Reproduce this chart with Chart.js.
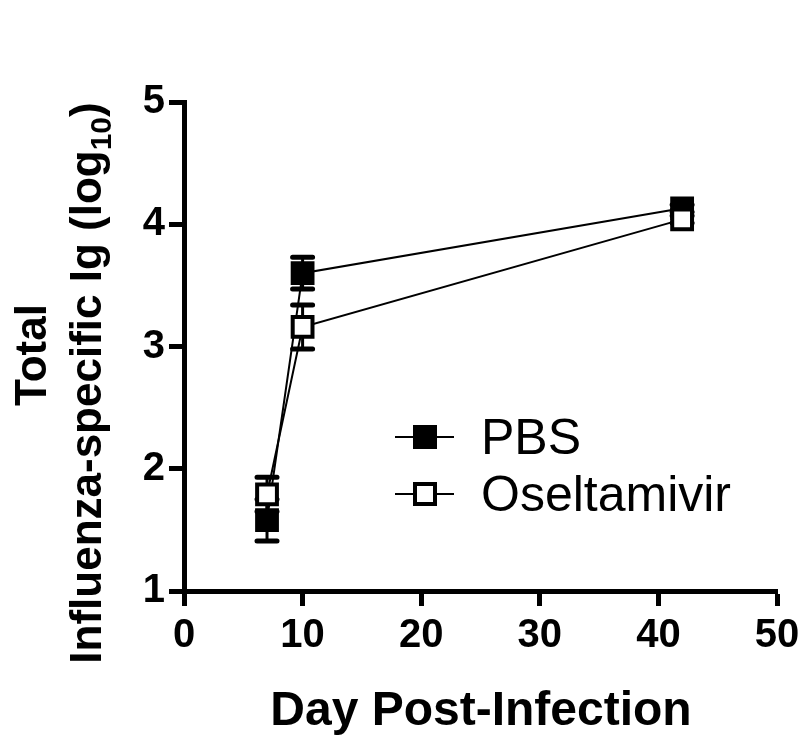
<!DOCTYPE html>
<html>
<head>
<meta charset="utf-8">
<script src="https://cdn.jsdelivr.net/npm/chart.js@4"></script>
<style>
  html, body { margin: 0; padding: 0; background: #fff; }
  #wrap { width: 800px; height: 741px; }
</style>
</head>
<body>
<div id="wrap"><canvas id="graph" width="800" height="741"></canvas></div>
<script>
const days = [7, 10, 42];
const pbsMean = [1.58, 3.6, 4.13];
const pbsErr = [0.17, 0.13, 0.03];
const oselMean = [1.79, 3.16, 4.04];
const oselErr = [0.14, 0.18, 0.03];
const xTicks = [0, 10, 20, 30, 40, 50];
const yTicks = [1, 2, 3, 4, 5];

const FONT = '"Liberation Sans", Arial, sans-serif';

// error bars drawn under the markers
const errorBars = {
  id: 'errorBars',
  beforeDatasetsDraw(chart) {
    const ctx = chart.ctx;
    const xs = chart.scales.x, ys = chart.scales.y;
    chart.data.datasets.forEach(ds => {
      ds.data.forEach((p, i) => {
        const e = ds.errors[i];
        if (!e) return;
        const px = xs.getPixelForValue(p.x);
        const top = ys.getPixelForValue(p.y + e);
        const bot = ys.getPixelForValue(p.y - e);
        ctx.save();
        ctx.strokeStyle = '#000';
        ctx.lineCap = 'round';
        ctx.lineWidth = 3;
        ctx.beginPath();
        ctx.moveTo(px, top); ctx.lineTo(px, bot);
        ctx.stroke();
        ctx.lineWidth = 5;
        ctx.beginPath();
        ctx.moveTo(px - 10, top); ctx.lineTo(px + 10, top);
        ctx.moveTo(px - 10, bot); ctx.lineTo(px + 10, bot);
        ctx.stroke();
        ctx.restore();
      });
    });
  }
};

// titles and legend
const decor = {
  id: 'decor',
  afterDraw(chart) {
    const ctx = chart.ctx;
    ctx.save();
    ctx.fillStyle = '#000';
    ctx.textBaseline = 'alphabetic';

    // x title
    ctx.font = 'bold 48px ' + FONT;
    ctx.textAlign = 'center';
    ctx.fillText('Day Post-Infection', 481, 725);

    // y title, two lines
    ctx.save();
    ctx.translate(46, 355);
    ctx.rotate(-Math.PI / 2);
    ctx.font = 'bold 44px ' + FONT;
    ctx.textAlign = 'center';
    ctx.fillText('Total', 0, 0);
    ctx.restore();

    ctx.save();
    ctx.translate(101, 383);
    ctx.rotate(-Math.PI / 2);
    ctx.textAlign = 'left';
    const main = 'Influenza-specific Ig (log';
    ctx.font = 'bold 44px ' + FONT;
    const w1 = ctx.measureText(main).width;
    const w3 = ctx.measureText(')').width;
    ctx.font = 'bold 30px ' + FONT;
    const w2 = ctx.measureText('10').width;
    let x = -(w1 + w2 + w3) / 2;
    ctx.font = 'bold 44px ' + FONT;
    ctx.fillText(main, x, 0);
    x += w1;
    ctx.font = 'bold 30px ' + FONT;
    ctx.fillText('10', x, 10);
    x += w2;
    ctx.font = 'bold 44px ' + FONT;
    ctx.fillText(')', x, 0);
    ctx.restore();

    // legend
    const rows = [
      { label: 'PBS', y: 437, fill: '#000' },
      { label: 'Oseltamivir', y: 494, fill: '#fff' }
    ];
    rows.forEach(r => {
      ctx.strokeStyle = '#000';
      ctx.lineWidth = 2;
      ctx.beginPath();
      ctx.moveTo(395, r.y); ctx.lineTo(454, r.y);
      ctx.stroke();
      ctx.fillStyle = r.fill;
      ctx.lineWidth = 4;
      ctx.fillRect(415, r.y - 10, 20, 20);
      ctx.strokeRect(415, r.y - 10, 20, 20);
      ctx.fillStyle = '#000';
      ctx.font = '50px ' + FONT;
      ctx.textAlign = 'left';
      ctx.fillText(r.label, 481, r.y + 17);
    });
    ctx.restore();
  }
};

const pts = (xs, ys) => xs.map((d, i) => ({ x: d, y: ys[i] }));

new Chart(document.getElementById('graph'), {
  type: 'line',
  data: {
    datasets: [
      {
        label: 'PBS',
        data: pts(days, pbsMean),
        errors: pbsErr,
        borderColor: '#000',
        borderWidth: 2,
        pointStyle: 'rect',
        pointRadius: 14,
        pointBorderWidth: 4,
        pointBackgroundColor: '#000',
        pointBorderColor: '#000',
        order: 2
      },
      {
        label: 'Oseltamivir',
        data: pts(days, oselMean),
        errors: oselErr,
        borderColor: '#000',
        borderWidth: 2,
        pointStyle: 'rect',
        pointRadius: 14,
        pointBorderWidth: 4,
        pointBackgroundColor: '#fff',
        pointBorderColor: '#000',
        order: 1
      }
    ]
  },
  options: {
    responsive: false,
    animation: false,
    layout: { padding: { left: 110, right: 23, top: 102, bottom: 0 } },
    plugins: { legend: { display: false }, tooltip: { enabled: false } },
    elements: { line: { tension: 0 } },
    scales: {
      x: {
        type: 'linear',
        min: 0,
        max: 50,
        afterFit: s => { s.height = 150; s.paddingLeft = 0; s.paddingRight = 0; },
        afterBuildTicks: s => { s.ticks = xTicks.map(v => ({ value: v })); },
        border: { display: true, color: '#000', width: 5 },
        grid: { drawOnChartArea: false, drawTicks: true, tickLength: 15, tickWidth: 5, tickColor: '#000' },
        ticks: { color: '#000', padding: 6, maxRotation: 0, font: { family: FONT, size: 40, weight: 'bold' } }
      },
      y: {
        type: 'linear',
        min: 1,
        max: 5,
        afterFit: s => { s.width = 74; s.paddingTop = 0; s.paddingBottom = 0; },
        afterBuildTicks: s => { s.ticks = yTicks.map(v => ({ value: v })); },
        border: { display: true, color: '#000', width: 5 },
        grid: { drawOnChartArea: false, drawTicks: true, tickLength: 15, tickWidth: 5, tickColor: '#000' },
        ticks: { color: '#000', padding: 4, font: { family: FONT, size: 40, weight: 'bold' } }
      }
    }
  },
  plugins: [errorBars, decor]
});
</script>
</body>
</html>
